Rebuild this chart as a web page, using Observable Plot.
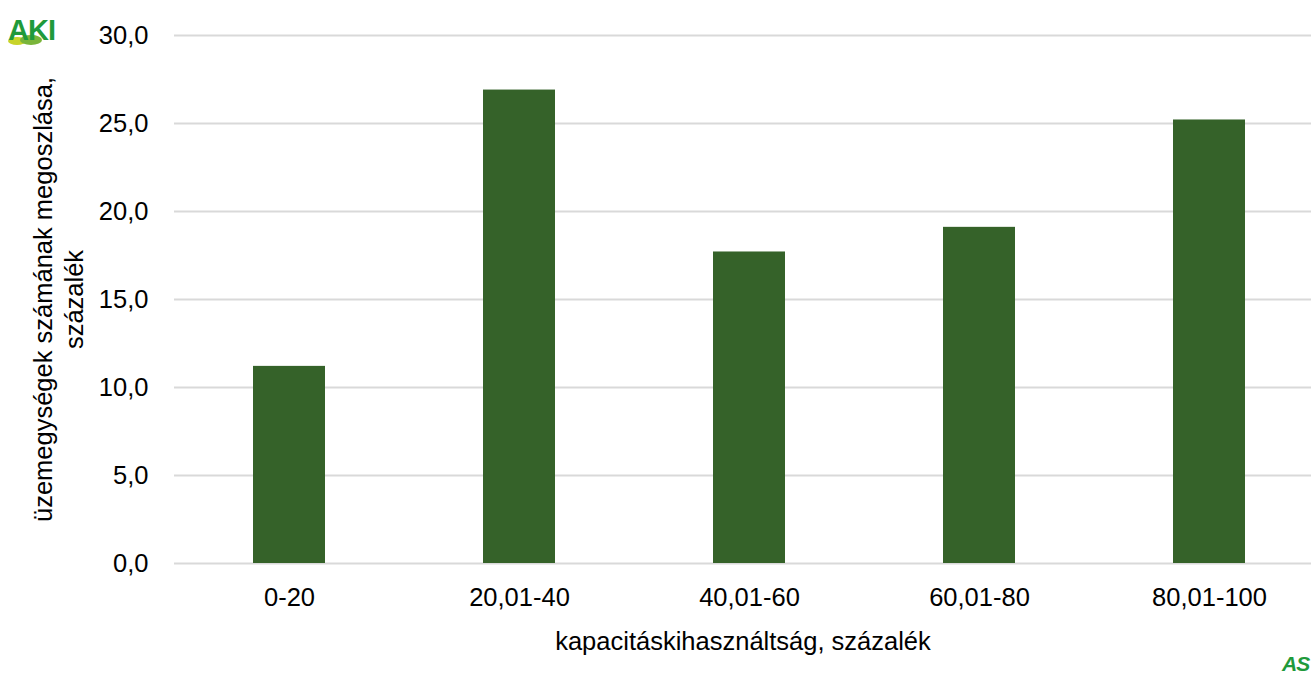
<!DOCTYPE html>
<html>
<head>
<meta charset="utf-8">
<script src="https://cdn.jsdelivr.net/npm/d3@7"></script>
<script src="https://cdn.jsdelivr.net/npm/@observablehq/plot@0.6"></script>
<style>
  html, body { margin: 0; padding: 0; background: #fff; }
  #chart svg { display: block; }
</style>
</head>
<body>
<div id="chart"></div>
<script>
const categories = ["0-20", "20,01-40", "40,01-60", "60,01-80", "80,01-100"];
const values = [11.2, 26.9, 17.7, 19.1, 25.2];
const yTicks = [0, 5, 10, 15, 20, 25, 30];
const xTitle = "kapacitáskihasználtság, százalék";
const yTitle = "üzemegységek számának megoszlása,\nszázalék";

const data = categories.map((c, i) => ({cat: c, val: values[i]}));
const fmt = d => d.toFixed(1).replace(".", ",");
const FS = 25.5;

const chart = Plot.plot({
  width: 1311,
  height: 677,
  marginLeft: 174,
  marginRight: 0,
  marginTop: 35,
  marginBottom: 114,
  style: {fontFamily: "'Liberation Sans', Arial, sans-serif", fontSize: FS + "px", color: "#000", background: "#fff"},
  x: {domain: categories, range: [174, 1324], paddingInner: 0.687, paddingOuter: 0.3435},
  y: {domain: [0, 30]},
  marks: [
    Plot.ruleY(yTicks, {stroke: "#d9d9d9", strokeWidth: 2}),
    Plot.barY(data, {x: "cat", y: "val", fill: "#356229"}),
    Plot.axisY({ticks: yTicks, tickFormat: fmt, tickSize: 0, tickPadding: 26, label: null, fontSize: FS}),
    Plot.axisX({tickSize: 0, tickPadding: 24, label: null, fontSize: FS}),
    Plot.text([xTitle], {frameAnchor: "bottom", dy: 78, lineAnchor: "middle", fontSize: FS, fill: "#000"}),
    Plot.text([yTitle], {frameAnchor: "left", dx: -117, rotate: -90, textAnchor: "middle", lineAnchor: "middle", fontSize: FS, lineHeight: 1.2, fill: "#000"})
  ]
});

document.getElementById("chart").appendChild(chart);

// Decorative logos
const svg = d3.select(chart);
const aki = svg.append("g");
aki.append("ellipse").attr("cx", 17).attr("cy", 41).attr("rx", 9).attr("ry", 4).attr("fill", "#c8d42a");
aki.append("ellipse").attr("cx", 31).attr("cy", 40).attr("rx", 11).attr("ry", 5).attr("fill", "#7ab53a");
aki.append("text").attr("x", 8).attr("y", 40).attr("text-anchor", "start")
  .attr("font-family", "'Liberation Sans', Arial, sans-serif")
  .attr("font-weight", "bold").attr("font-size", 29).attr("letter-spacing", -1).attr("fill", "#1f9a3b").text("AKI");
svg.append("text").attr("x", 1282).attr("y", 671).attr("text-anchor", "start")
  .attr("font-family", "'Liberation Sans', Arial, sans-serif")
  .attr("font-weight", "bold").attr("font-style", "italic").attr("font-size", 21).attr("letter-spacing", -1)
  .attr("fill", "#1f9a3b").text("AS");
</script>
</body>
</html>
